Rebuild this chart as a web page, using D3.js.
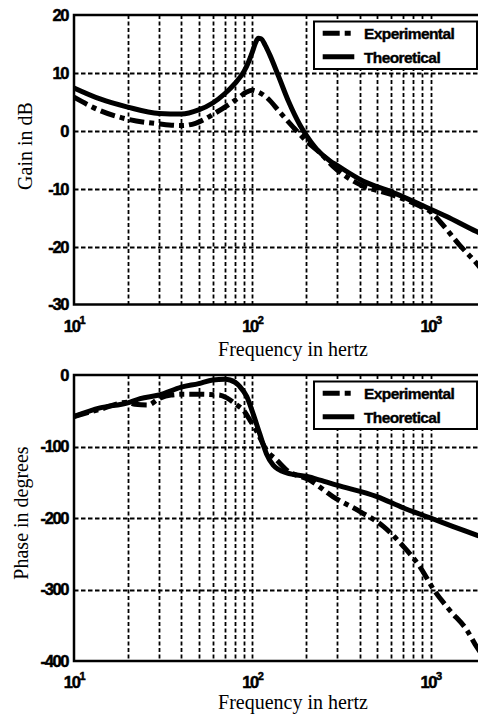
<!DOCTYPE html>
<html><head><meta charset="utf-8">
<script src="https://cdn.jsdelivr.net/npm/d3@7"></script>
<style>body{margin:0;background:#fff}svg{display:block}</style>
</head><body><svg id="c" width="478" height="721"></svg>
<script>
// ---- data ----
const gainTheoFreq = [10,14,20,30,40,50,60,70,80,90,95,100,104,108,112,118,125,140,160,185,200,230,273,300,420,600,870,1230,1811,2000];
const gainTheo     = [7.4,5.5,4.1,3.0,2.9,3.6,4.8,6.4,8.2,10.3,11.8,13.6,15.1,16.0,15.9,14.8,13.2,9.5,5.0,1.0,-0.7,-3.2,-5.2,-6.0,-8.7,-10.5,-12.7,-14.8,-17.4,-18.0];
const gainExpFreq  = [10,14,20,30,40,48,63,82,93,100,106,120,143,170,210,240,283,402,600,870,1000,1130,1450,1811,2000];
const gainExp      = [5.8,3.5,2.0,1.2,0.9,1.3,3.2,5.5,6.7,7.0,6.8,5.8,3.2,0.6,-2.3,-3.8,-6.1,-9.3,-11.0,-13.0,-14.0,-15.7,-19.7,-22.9,-24.5];
const phaseTheoFreq = [10,14,20,23.5,30,40,50,60,70,75,85,93,101,110,120,131,156,203,240,298,500,705,1000,1340,1811,2000];
const phaseTheo     = [-58,-46,-39,-33,-28,-17,-12,-7,-6,-7,-16,-30,-54,-82,-110,-126,-137,-142,-147,-154,-170,-186,-200,-212,-224,-228];
const phaseExpFreq  = [10,14,20,22,26,30,35,40,50,65,72,82,89,97,106,120,137,156,210,283,402,545,705,870,1040,1280,1600,1811,2000];
const phaseExp      = [-58,-48,-38,-41,-42,-33,-28,-27,-27,-28,-32,-42,-49,-63,-79,-105,-119,-133,-147,-170,-191,-212,-240,-268,-300,-329,-357,-380,-395];
const gainTicks  = [20,10,0,-10,-20,-30];
const phaseTicks = [0,-100,-200,-300,-400];
const decadeTicks = [10,100,1000];
const decadeExp = ["1","2","3"];
const legendLabels = ["Experimental","Theoretical"];

const svg = d3.select("#c");
svg.append("rect").attr("width",478).attr("height",721).attr("fill","#fff");

const xL = 74, xR = 74 + 178.3*Math.log10(200);
const gridFreqs = [];
for (let d of [10,100,1000]) for (let k=1;k<10;k++){ const f=d*k; if (f>10 && f<2000) gridFreqs.push(f); }

function panel(cfg){
  const x = d3.scaleLog().domain([10,2000]).range([xL,xR]);
  const y = d3.scaleLinear().domain(cfg.yDomain).range(cfg.yRange);
  const g = svg.append("g");
  const [yb, yt] = cfg.yRange;
  const clipId = "clip"+cfg.id;
  svg.append("clipPath").attr("id",clipId).append("rect")
    .attr("x",xL).attr("y",yt).attr("width",xR-xL).attr("height",yb-yt);
  // grid
  g.selectAll(".vg").data(gridFreqs).join("line")
    .attr("x1",d=>Math.round(x(d))+0.5).attr("x2",d=>Math.round(x(d))+0.5).attr("y1",yt).attr("y2",yb)
    .attr("stroke","#000").attr("stroke-width",1.8).attr("stroke-dasharray","4,2.5");
  g.selectAll(".hg").data(cfg.ticks.slice(1,-1)).join("line")
    .attr("x1",xL).attr("x2",xR).attr("y1",d=>Math.round(y(d))+0.5).attr("y2",d=>Math.round(y(d))+0.5)
    .attr("stroke","#000").attr("stroke-width",1.8).attr("stroke-dasharray","4.5,2.5");
  // curves
  const line = d3.line().x(d=>x(d[0])).y(d=>y(d[1])).curve(d3.curveMonotoneX);
  const cg = g.append("g").attr("clip-path",`url(#${clipId})`);
  cg.append("path").datum(d3.zip(cfg.expF,cfg.expV)).attr("d",line)
    .attr("fill","none").attr("stroke","#000").attr("stroke-width",5).attr("stroke-dasharray","15,5,5,5");
  cg.append("path").datum(d3.zip(cfg.theoF,cfg.theoV)).attr("d",line)
    .attr("fill","none").attr("stroke","#000").attr("stroke-width",5).attr("stroke-linejoin","round");
  // axes frame
  g.append("path").attr("d",`M${xR},${yt}H${xL}V${yb}H${xR}`)
    .attr("fill","none").attr("stroke","#000").attr("stroke-width",2.5);
  // y tick labels
  g.selectAll(".yt").data(cfg.ticks).join("text")
    .attr("x",68).attr("y",d=>y(d)).attr("dy","0.36em").attr("text-anchor","end")
    .attr("font-family","Liberation Sans, Arial, sans-serif").attr("font-weight","bold")
    .attr("font-size",16.5).attr("letter-spacing","-1.4")
    .attr("stroke","#000").attr("stroke-width",0.5).text(d=>d);
  // x tick labels
  const xt = g.selectAll(".xt").data(decadeTicks).join("text")
    .attr("x",d=>x(d)).attr("y",yb+27).attr("text-anchor","middle")
    .attr("font-family","Liberation Sans, Arial, sans-serif").attr("font-weight","bold")
    .attr("font-size",16.5).attr("letter-spacing","-1.4")
    .attr("stroke","#000").attr("stroke-width",0.5);
  xt.append("tspan").text("10");
  xt.append("tspan").attr("dy",-8).attr("font-size",11).text((d,i)=>decadeExp[i]);
  // x title
  g.append("text").attr("x",293).attr("y",yb+cfg.xTitleOff).attr("text-anchor","middle")
    .attr("font-family","Liberation Serif, Times New Roman, serif").attr("font-size",20)
    .text("Frequency in hertz");
  // y title
  g.append("text").attr("transform",`translate(${cfg.yTitleX},${cfg.yTitleY}) rotate(-90)`)
    .attr("text-anchor","middle")
    .attr("font-family","Liberation Serif, Times New Roman, serif").attr("font-size",20)
    .text(cfg.yTitle);
  // legend
  const lg = g.append("g").attr("transform",`translate(314,${yt+6.5})`);
  lg.append("rect").attr("x",0).attr("y",0).attr("width",163).attr("height",47.5)
    .attr("fill","#fff").attr("stroke","#000").attr("stroke-width",2);
  legendLabels.forEach((lab,i)=>{
    const yy = 11.8 + i*23.4;
    lg.append("line").attr("x1",8.7).attr("x2",40.3).attr("y1",yy).attr("y2",yy)
      .attr("stroke","#000").attr("stroke-width",5)
      .attr("stroke-dasharray", i===0 ? "17,5,6,20" : null);
    lg.append("text").attr("x",50).attr("y",yy+6)
      .attr("font-family","Liberation Sans, Arial, sans-serif").attr("font-weight","bold")
      .attr("font-size",15.5).attr("letter-spacing","-0.6")
      .attr("stroke","#000").attr("stroke-width",0.4).text(lab);
  });
}

panel({id:1, yDomain:[-30,20], yRange:[304.5,15], ticks:gainTicks,
  expF:gainExpFreq, expV:gainExp, theoF:gainTheoFreq, theoV:gainTheo,
  xTitleOff:51, yTitle:"Gain in dB", yTitleX:32, yTitleY:146});
panel({id:2, yDomain:[-400,0], yRange:[661,375], ticks:phaseTicks,
  expF:phaseExpFreq, expV:phaseExp, theoF:phaseTheoFreq, theoV:phaseTheo,
  xTitleOff:48, yTitle:"Phase in degrees", yTitleX:28, yTitleY:513});
</script></body></html>
